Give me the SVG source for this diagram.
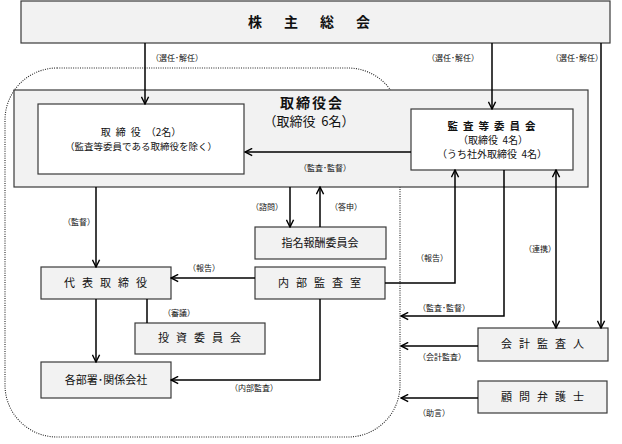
<svg xmlns="http://www.w3.org/2000/svg" width="622" height="444" viewBox="0 0 622 444">
<defs>
<marker id="ah" viewBox="0 0 10 10" refX="9" refY="5" markerWidth="9" markerHeight="9" markerUnits="userSpaceOnUse" orient="auto-start-reverse">
<path d="M1,1 L9,5 L1,9" fill="none" stroke="#000" stroke-width="1.6"/>
</marker>
<style>
text{font-family:"Noto Sans CJK JP","Liberation Sans",sans-serif;fill:#111}
.gbox{fill:#f2f2f2;stroke:#3a3a3a;stroke-width:1.2}
.wbox{fill:#fff;stroke:#3a3a3a;stroke-width:1.2}
.ln{fill:none;stroke:#000;stroke-width:1.5}
.ar{marker-end:url(#ah)}
.lb{font-size:8px}
.bt{font-size:11px;text-anchor:middle}
.sp{letter-spacing:7px}
.dot{fill:none;stroke:#222;stroke-width:1.1;stroke-dasharray:1 1.3}
</style>
</defs>
<rect class="dot" x="5" y="68" width="395" height="369" rx="52" ry="52"/>
<g id="kabunushi"><rect class="gbox" x="21" y="1" width="589" height="42"/><text x="320" y="27" style="font-size:14px;font-weight:bold;letter-spacing:22px" text-anchor="middle">株主総会</text></g>
<g id="torishimariyakukai"><rect class="gbox" x="14" y="90" width="574" height="97"/><text x="312" y="108" style="font-size:14px;font-weight:bold;letter-spacing:2px" text-anchor="middle">取締役会</text><text x="309" y="126" style="font-size:13px" text-anchor="middle">（取締役&#160;&#160;6名）</text></g>
<g id="torishimariyaku"><rect class="wbox" x="38" y="104" width="206" height="70"/><text x="141" y="136" style="font-size:10px" text-anchor="middle"><tspan style="letter-spacing:5px">取締役</tspan>（2名）</text><text x="141" y="150" style="font-size:9.5px" text-anchor="middle">（監査等委員である取締役を除く）</text></g>
<g id="kansatou"><rect class="wbox" x="411" y="109" width="162" height="61"/><text x="494" y="130" style="font-size:10.5px;font-weight:bold;letter-spacing:5px" text-anchor="middle">監査等委員会</text><text x="493" y="144" style="font-size:10px" text-anchor="middle">（取締役&#160;&#160;4名）</text><text x="492" y="158" style="font-size:10px" text-anchor="middle">（うち社外取締役&#160;&#160;4名）</text></g>
<g id="shimei"><rect class="gbox" x="255" y="227" width="131" height="32"/><text class="bt" x="320" y="247">指名報酬委員会</text></g>
<g id="naibu"><rect class="gbox" x="255" y="267" width="130" height="32"/><text class="bt sp" x="323" y="287">内部監査室</text></g>
<g id="daihyou"><rect class="gbox" x="41" y="267" width="130" height="32"/><text class="bt sp" x="109" y="287">代表取締役</text></g>
<g id="toushi"><rect class="gbox" x="135" y="323" width="130" height="31"/><text class="bt sp" x="203" y="342">投資委員会</text></g>
<g id="kakubusho"><rect class="gbox" x="41" y="362" width="130" height="36"/><text class="bt" x="106" y="384">各部署･関係会社</text></g>
<g id="kaikei"><rect class="gbox" x="478" y="328" width="130" height="33"/><text class="bt sp" x="546" y="348">会計監査人</text></g>
<g id="komon"><rect class="gbox" x="478" y="381" width="129" height="32"/><text class="bt sp" x="546" y="401">顧問弁護士</text></g>
<g id="connectors">
<path class="ln ar" d="M145,43 V104"/>
<path class="ln ar" d="M492,43 V109"/>
<path class="ln ar" d="M601,43 V328"/>
<path class="ln ar" d="M411,152 H245"/>
<path class="ln ar" d="M96,187 V267"/>
<path class="ln ar" d="M290,187 V227"/>
<path class="ln ar" d="M320,227 V187"/>
<path class="ln ar" d="M255,278 H171"/>
<path class="ln ar" d="M385,283 H455 V170"/>
<path class="ln ar" d="M504,170 V316 H401"/>
<path class="ln ar" d="M556,170 V328" style="marker-start:url(#ah)"/>
<path class="ln ar" d="M96,299 V362"/>
<path class="ln" d="M147,299 V323"/>
<path class="ln ar" d="M320,299 V380 H171"/>
<path class="ln ar" d="M478,346 H401"/>
<path class="ln ar" d="M478,398 H401"/>
</g>
<g id="labels">
<text class="lb" x="151" y="61">（選任･解任）</text>
<text class="lb" x="427" y="61">（選任･解任）</text>
<text class="lb" x="551" y="61">（選任･解任）</text>
<text class="lb" x="299" y="171">（監査･監督）</text>
<text class="lb" x="63" y="225">（監督）</text>
<text class="lb" x="251" y="210">（諮問）</text>
<text class="lb" x="330" y="210">（答申）</text>
<text class="lb" x="188" y="271">（報告）</text>
<text class="lb" x="416" y="261">（報告）</text>
<text class="lb" x="418" y="311">（監査･監督）</text>
<text class="lb" x="524" y="252">（連携）</text>
<text class="lb" x="163" y="316">（審議）</text>
<text class="lb" x="230" y="391">（内部監査）</text>
<text class="lb" x="418" y="360">（会計監査）</text>
<text class="lb" x="418" y="416">（助言）</text>
</g>
</svg>
